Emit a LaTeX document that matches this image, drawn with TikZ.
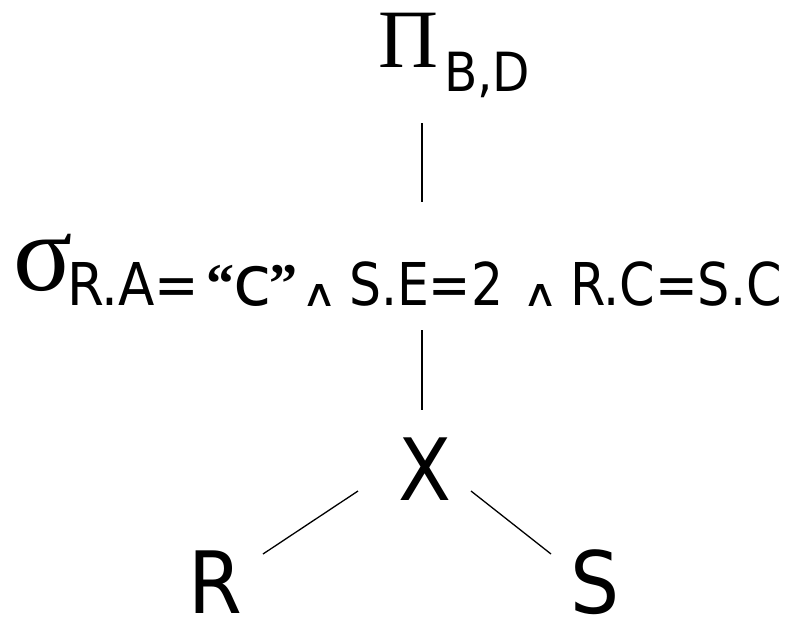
\documentclass[tikz,border=0pt]{standalone}
\usepackage{fontspec}
\usepackage{graphicx}
\setmainfont{DejaVu Sans Condensed}
\newfontfamily\seriffam{Liberation Serif}
\newfontfamily\widefam{DejaVu Sans}
\newcommand{\fsz}[1]{\fontsize{#1}{#1}\selectfont}
\begin{document}
\begin{tikzpicture}[x=1pt,y=-1pt,
  lbl/.style={inner sep=0pt, outer sep=0pt, anchor=base west},
  sub/.style={lbl, font=\fsz{59}},
  quote/.style={lbl, font=\seriffam\bfseries\fsz{56}},
  conj/.style={lbl, font=\widefam\fsz{38}},
  rel/.style={lbl, font=\fsz{86}},
  edge/.style={line width=1.3pt, black}]
\useasboundingbox (0,0) rectangle (789,616);
% projection
\node[lbl, font=\seriffam\fsz{83}] (pi) at (378,67) {Π};
\node[lbl, font=\fsz{54}] (pisub) at (444,91) {B,D};
% selection
\node[lbl, font=\seriffam\fsz{110}] (sigma) at (13,290) {σ};
\node[sub] (condA) at (67,305) {R.A=};
\node[quote] (q1) at (206,302) {“};
\node[lbl, font=\widefam\fsz{70}] (cc) at (233,305) {c};
\node[quote] (q2) at (269,302) {”};
\node[conj] (and1) at (301,306) {\scalebox{1.3}[1]{∧}};
\node[sub] (condB) at (349,305) {\scalebox{0.95}[1]{S.E=2}};
\node[conj] (and2) at (522,306) {\scalebox{1.3}[1]{∧}};
\node[sub] (condC) at (570,305) {\scalebox{0.96}[1]{R.C=S.C}};
% join and relations
\node[lbl, anchor=base, font=\fsz{86}] (join) at (425,500) {X};
\node[rel] (r) at (188,613) {R};
\node[rel] (s) at (570,613) {S};
% connector end points
\coordinate (p1) at (422,123);
\coordinate (p2) at (422,202);
\coordinate (s1) at (422,330);
\coordinate (s2) at (422,410);
\coordinate (rl1) at (263,554);
\coordinate (rl2) at (358,491);
\coordinate (sl1) at (471,491);
\coordinate (sl2) at (551,554);
\draw[edge] (p1) -- (p2);
\draw[edge] (s1) -- (s2);
\draw[edge] (rl1) -- (rl2);
\draw[edge] (sl1) -- (sl2);
\end{tikzpicture}
\end{document}
